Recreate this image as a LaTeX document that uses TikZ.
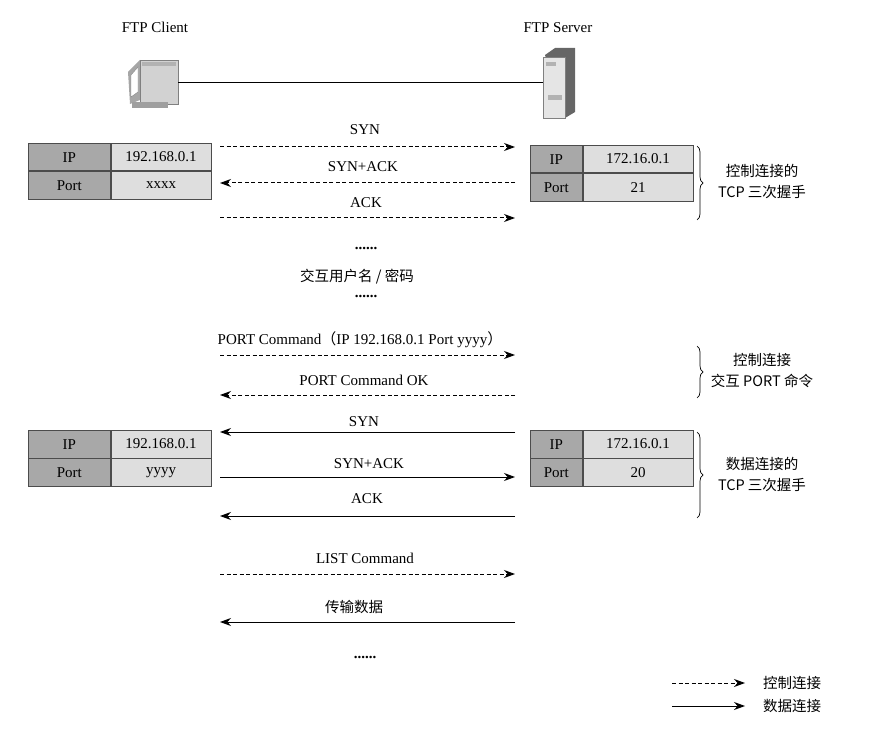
\documentclass[tikz,border=0pt]{standalone}
\usepackage{fontspec}
\setmainfont{Liberation Serif}
\newfontfamily\cjk{Noto Sans CJK SC}[BoldFont={Noto Sans CJK SC Bold}]
\usetikzlibrary{arrows.meta,decorations.pathreplacing}
\definecolor{dk}{HTML}{A8A8A8}
\definecolor{lt}{HTML}{DEDEDE}
\tikzset{
  lbl/.style={font=\fontsize{15}{17}\selectfont, inner sep=1pt},
  clbl/.style={font=\cjk\fontsize{14.5}{21}\selectfont, inner sep=1pt, align=center},
  ctl/.style={-{Stealth[length=11pt,width=8pt]}, dash pattern=on 4pt off 2.5pt, line width=1pt},
  dat/.style={-{Stealth[length=11pt,width=8pt]}, line width=1pt},
  cell/.style={draw=black!70, line width=0.7pt, minimum height=27.5pt, inner sep=0pt, font=\fontsize{15}{17}\selectfont},
  brc/.style={decorate, decoration={brace, amplitude=6pt}, line width=0.7pt}
}
\begin{document}
\begin{tikzpicture}[x=1pt,y=-1pt]
\useasboundingbox (0,0) rectangle (892,754);
% icons
\node[lbl] (cl) at (155,27) {FTP Client};
\node[lbl] (sl) at (558,28) {FTP Server};
% PC
\fill[gray!70] (128,72) -- (140,60) -- (140,100) -- (130,104) -- cycle;
\fill[white,draw=gray] (131,75) -- (138,67) -- (138,92) -- (131,97) -- cycle;
\fill[gray!35,draw=gray] (140,60) rectangle (178,104);
\fill[gray!60] (142,62) rectangle (176,66);
\fill[gray!75] (132,102) rectangle (168,108);
% server
\fill[gray!80!black] (545,55) -- (555,48) -- (575,48) -- (575,112) -- (565,118) -- cycle;
\fill[gray!20,draw=gray] (543,57) rectangle (565,118);
\fill[gray!60] (546,62) rectangle (556,66);
\fill[gray!60] (548,95) rectangle (562,100);
\coordinate (pcR) at (178,82);
\coordinate (svL) at (543,82);
\draw[line width=0.9pt] (pcR) -- (svL);
% tables
\foreach \n/\x/\y/\kw/\vw/\ip/\pt in {c1/28/143/82/100/192.168.0.1/xxxx, s1/530/145/52/110/172.16.0.1/21, c2/28/430/82/100/192.168.0.1/yyyy, s2/530/430/52/110/172.16.0.1/20}{
  \node[cell,fill=dk,minimum width=\kw,anchor=north west] (\n ik) at (\x,\y) {IP};
  \node[cell,fill=lt,minimum width=\vw,anchor=north west] (\n iv) at (\n ik.north east) {\ip};
  \node[cell,fill=dk,minimum width=\kw,anchor=north west] (\n pk) at (\n ik.south west) {Port};
  \node[cell,fill=lt,minimum width=\vw,anchor=north west] (\n pv) at (\n pk.north east) {\pt};
}
% arrow endpoints
\foreach \i/\y in {1/147,2/183,3/218,4/355,5/395,6/432,7/477,8/516,9/574,10/622}{
  \coordinate (L\i) at (220,\y); \coordinate (R\i) at (515,\y);
}
\draw[ctl] (L1) -- (R1); \node[lbl] (t1) at (365,130) {SYN};
\draw[ctl] (R2) -- (L2); \node[lbl] (t2) at (363,167) {SYN+ACK};
\draw[ctl] (L3) -- (R3); \node[lbl] (t3) at (366,203) {ACK};
\node[lbl] (d1) at (366,248) {\textbf{......}};
\node[clbl] (u) at (357,277) {交互用户名 / 密码};
\node[lbl] (d2) at (366,296) {\textbf{......}};
\draw[ctl] (L4) -- (R4); \node[lbl] (t4) at (360,340) {PORT Command{\cjk（}IP 192.168.0.1 Port yyyy{\cjk）}};
\draw[ctl] (R5) -- (L5); \node[lbl] (t5) at (364,380) {PORT Command OK};
\draw[dat] (R6) -- (L6); \node[lbl] (t6) at (364,422) {SYN};
\draw[dat] (L7) -- (R7); \node[lbl] (t7) at (369,464) {SYN+ACK};
\draw[dat] (R8) -- (L8); \node[lbl] (t8) at (367,499) {ACK};
\draw[ctl] (L9) -- (R9); \node[lbl] (t9) at (365,558) {LIST Command};
\draw[dat] (R10) -- (L10); \node[clbl] (t10) at (354,607) {传输数据};
\node[lbl] (d3) at (365,657) {\textbf{......}};
% braces
\coordinate (b1a) at (697,146); \coordinate (b1b) at (697,220);
\draw[brc] (b1a) -- (b1b);
\node[clbl] (bt1) at (762,181) {控制连接的\\TCP 三次握手};
\coordinate (b2a) at (697,346); \coordinate (b2b) at (697,398);
\draw[brc] (b2a) -- (b2b);
\node[clbl] (bt2) at (762,371) {控制连接\\交互 PORT 命令};
\coordinate (b3a) at (697,432); \coordinate (b3b) at (697,518);
\draw[brc] (b3a) -- (b3b);
\node[clbl] (bt3) at (762,474) {数据连接的\\TCP 三次握手};
% legend
\coordinate (g1a) at (672,683); \coordinate (g1b) at (745,683);
\coordinate (g2a) at (672,706); \coordinate (g2b) at (745,706);
\draw[ctl] (g1a) -- (g1b); \node[clbl,anchor=west] (gl1) at (762,683) {控制连接};
\draw[dat] (g2a) -- (g2b); \node[clbl,anchor=west] (gl2) at (762,706) {数据连接};
\end{tikzpicture}
\end{document}
